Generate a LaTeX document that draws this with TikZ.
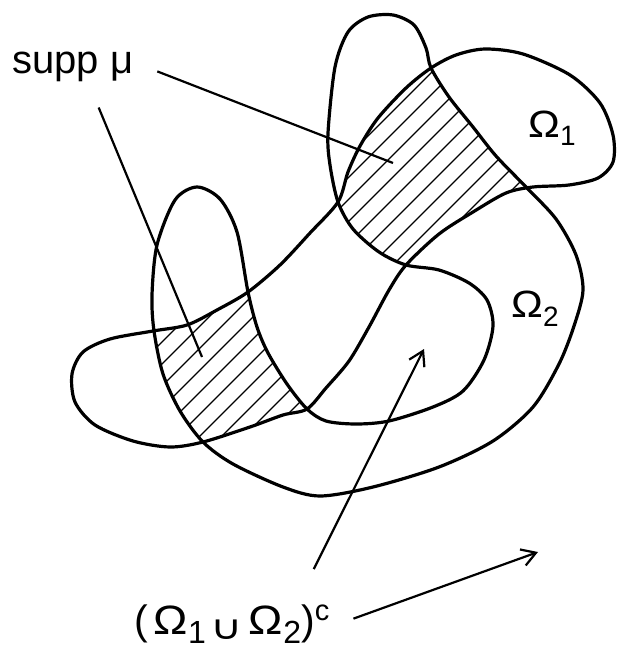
\documentclass[tikz,border=0pt]{standalone}
\usepackage{fontspec}
\setmainfont{Liberation Sans}
\newfontfamily\cupfont{DejaVu Sans}
\usetikzlibrary{arrows.meta}
\newcommand{\wideOmega}{\scalebox{1.12}[1]{Ω}}
\newcommand{\lowidx}[2][28]{\raisebox{-9pt}{\fontsize{#1}{#1}\selectfont #2}}
\newcommand{\upidx}[1]{\raisebox{14pt}{\fontsize{29}{29}\selectfont #1}}
\newcommand{\bigcupsign}{\makebox[24pt]{\raisebox{-5pt}{\scalebox{1.7}[1.3]{\cupfont\fontsize{26}{26}\selectfont ∪}}}}
\tikzset{
  boundary/.style={line width=3.2pt, line join=round},
  hatchline/.style={line width=1.4pt},
  leader/.style={line width=2.2pt},
  pointer/.style={line width=2.2pt, -{Straight Barb[length=14pt,width=17pt]}},
  regionlabel/.style={inner sep=0pt, anchor=base west, font=\fontsize{38}{38}\selectfont},
}

\begin{document}
\begin{tikzpicture}[x=1pt,y=-1pt]
      \useasboundingbox (0,0) rectangle (616,650);

      \path[save path=\omegaone] plot[smooth cycle] coordinates {
        (431,68) (456,55) (485,49) (523,54) (570,75) (600,103) (613,135)
        (613,162) (598,178) (569,185) (533,187) (506,193) (473,212) (439,234)
        (406,265) (389,290) (369,327) (349,361) (326,388) (307,409) (283,415)
        (250,427) (203,442) (170,447) (133,441) (95,425) (75,402) (72,374)
        (83,352) (110,339) (153,331) (187,325) (217,310) (248,292) (280,265)
        (310,233) (338,202) (348,172) (360,146) (378,118) (406,88)};
      \path[save path=\omegatwo] plot[smooth cycle] coordinates {
        (393,15) (414,25) (426,48) (431,68) (449,97) (473,127) (496,156)
        (526,187) (556,219) (576,255) (583,290) (574,326) (559,364) (533,407)
        (493,441) (439,467) (373,487) (320,496) (283,487) (233,464) (203,442)
        (180,411) (163,374) (154,331) (152,295) (157,245) (175,200) (197,187)
        (220,199) (237,232) (248,292) (257,327) (268,353) (287,384) (307,409)
        (326,421) (356,424) (389,421) (433,407) (463,391) (484,360) (493,326)
        (487,300) (469,283) (439,270) (406,265) (379,252) (353,229) (338,202)
        (330,165) (328,133) (335,67) (348,32) (368,17)};

      \begin{scope}
        \clip[use path=\omegaone];
        \clip[use path=\omegatwo];
        \foreach \c in {482,504,...,724}
          \draw[hatchline] (\c-500,500) -- (\c,0);
      \end{scope}
      \draw[boundary, use path=\omegaone];
      \draw[boundary, use path=\omegatwo];

      \node[regionlabel, font=\fontsize{40}{40}\selectfont] (supp) at (12,74) {supp μ};
      \node[regionlabel] (omone) at (528,137) {\wideOmega\lowidx{1}};
      \node[regionlabel] (omtwo) at (511,317) {\wideOmega\lowidx{2}};
      \node[regionlabel, font=\fontsize{41}{41}\selectfont] (compl) at (134,634)
        {(\hspace{6pt}\wideOmega\lowidx[32]{1}\hspace{9pt}\bigcupsign\hspace{10pt}\wideOmega\lowidx[32]{2})\upidx{c}};

      \coordinate (hatchup) at (393,163);
      \coordinate (hatchdown) at (202,357);
      \coordinate (hole) at (424,349);
      \coordinate (outer) at (538,552);

      \draw[leader] ([xshift=24pt,yshift=-4pt]supp.east) -- (hatchup);
      \draw[leader] ([xshift=26pt,yshift=-25pt]supp.south) -- (hatchdown);
      \draw[pointer] ([xshift=82pt,yshift=35pt]compl.north) -- (hole);
      \draw[pointer] ([xshift=24pt,yshift=5pt]compl.east) -- (outer);
    \end{tikzpicture}
\end{document}
